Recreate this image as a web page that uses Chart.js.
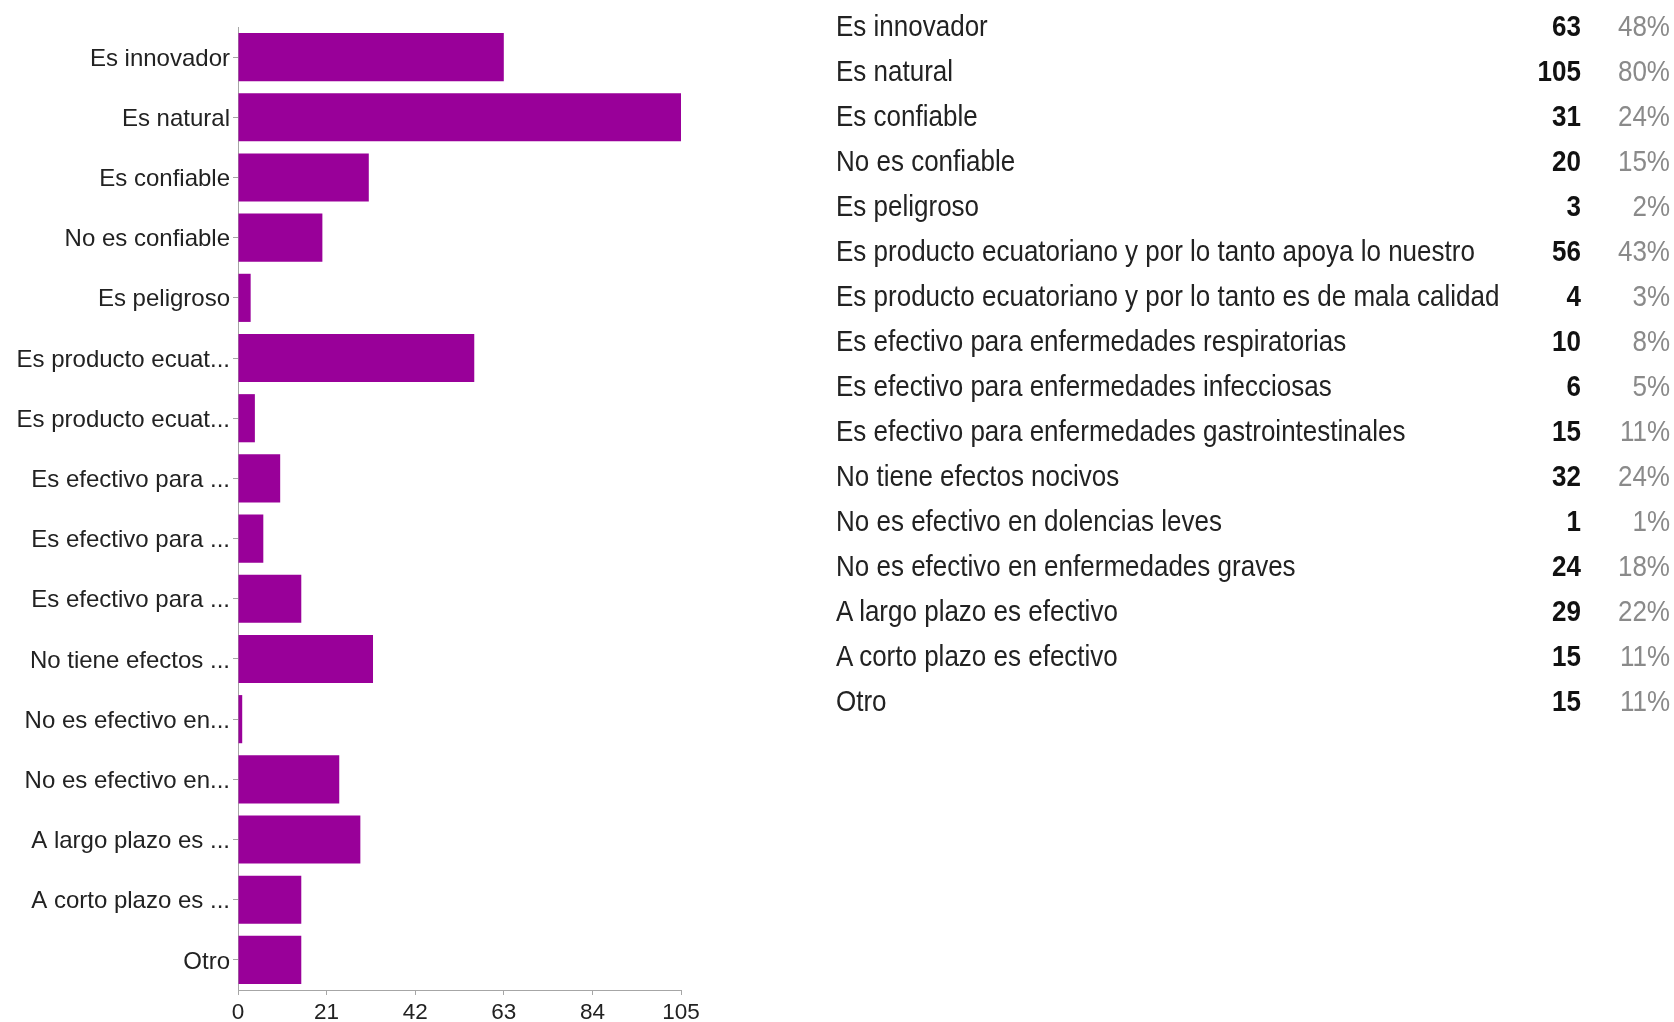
<!DOCTYPE html>
<html>
<head>
<meta charset="utf-8">
<script src="https://cdn.jsdelivr.net/npm/chart.js@4/dist/chart.umd.min.js"></script>
<style>
  html, body { margin: 0; padding: 0; background: #fff; }
  body { width: 1674px; height: 1022px; position: relative; overflow: hidden; font-family: "Liberation Sans", Arial, sans-serif; }
  #chartBox { position: absolute; left: 0; top: 0; width: 720px; height: 1022px; }
  #summary { position: absolute; left: 0; top: 0; width: 1674px; height: 1022px; }
  .row { position: absolute; left: 0; width: 1674px; height: 45px; line-height: 45px; font-size: 26px; }
  .row span { position: absolute; top: 0; white-space: nowrap; transform: scaleY(1.11); transform-origin: 50% 50%; }
  .row .lbl { left: 836px; color: #222; }
  .row .cnt { right: 93px; color: #111; font-weight: bold; }
  .row .pct { right: 4px; color: #8a8a8a; }
</style>
</head>
<body>
<div id="chartBox"><canvas id="c" width="720" height="1022"></canvas></div>
<div id="summary"></div>
<script>
// Answer options, their short axis labels, counts and share of respondents
const categories = [
  "Es innovador",
  "Es natural",
  "Es confiable",
  "No es confiable",
  "Es peligroso",
  "Es producto ecuatoriano y por lo tanto apoya lo nuestro",
  "Es producto ecuatoriano y por lo tanto es de mala calidad",
  "Es efectivo para enfermedades respiratorias",
  "Es efectivo para enfermedades infecciosas",
  "Es efectivo para enfermedades gastrointestinales",
  "No tiene efectos nocivos",
  "No es efectivo en dolencias leves",
  "No es efectivo en enfermedades graves",
  "A largo plazo es efectivo",
  "A corto plazo es efectivo",
  "Otro"
];
const axisLabels = [
  "Es innovador",
  "Es natural",
  "Es confiable",
  "No es confiable",
  "Es peligroso",
  "Es producto ecuat...",
  "Es producto ecuat...",
  "Es efectivo para ...",
  "Es efectivo para ...",
  "Es efectivo para ...",
  "No tiene efectos ...",
  "No es efectivo en...",
  "No es efectivo en...",
  "A largo plazo es ...",
  "A corto plazo es ...",
  "Otro"
];
const counts = [63, 105, 31, 20, 3, 56, 4, 10, 6, 15, 32, 1, 24, 29, 15, 15];
const percents = ["48%", "80%", "24%", "15%", "2%", "43%", "3%", "8%", "5%", "11%", "24%", "1%", "18%", "22%", "11%", "11%"];
const xTicks = [0, 21, 42, 63, 84, 105];

const FONT = '"Liberation Sans", Arial, sans-serif';
const AXIS_GREY = '#a6a6a6';

new Chart(document.getElementById('c'), {
  type: 'bar',
  data: {
    labels: axisLabels,
    datasets: [{
      data: counts,
      backgroundColor: '#990099',
      borderWidth: 0,
      categoryPercentage: 0.8,
      barPercentage: 1.0
    }]
  },
  options: {
    indexAxis: 'y',
    responsive: false,
    animation: false,
    devicePixelRatio: 1,
    layout: { padding: { top: 27, right: 39, left: 0, bottom: 0 } },
    plugins: { legend: { display: false }, tooltip: { enabled: false } },
    scales: {
      x: {
        min: xTicks[0],
        max: xTicks[xTicks.length - 1],
        afterBuildTicks: (scale) => { scale.ticks = xTicks.map(v => ({ value: v })); },
        afterFit: (scale) => { scale.height = 32; },
        ticks: { font: { family: FONT, size: 22.5 }, color: '#222', padding: 4, maxRotation: 0, autoSkip: false },
        grid: { drawOnChartArea: false, drawTicks: true, tickLength: 5, color: AXIS_GREY },
        border: { color: AXIS_GREY, width: 1 }
      },
      y: {
        afterFit: (scale) => { scale.width = 238; },
        ticks: { font: { family: FONT, size: 24 }, color: '#222', padding: 3, labelOffset: 2, autoSkip: false },
        grid: { drawOnChartArea: false, drawTicks: true, tickLength: 5, color: AXIS_GREY, offset: false },
        border: { color: AXIS_GREY, width: 1 }
      }
    }
  }
});

// Summary table beside the chart
const summary = document.getElementById('summary');
categories.forEach((name, i) => {
  const row = document.createElement('div');
  row.className = 'row';
  row.style.top = (4 + 45 * i) + 'px';
  row.innerHTML = '<span class="lbl"></span><span class="cnt"></span><span class="pct"></span>';
  row.querySelector('.lbl').textContent = name;
  row.querySelector('.cnt').textContent = counts[i];
  row.querySelector('.pct').textContent = percents[i];
  summary.appendChild(row);
});
</script>
</body>
</html>
